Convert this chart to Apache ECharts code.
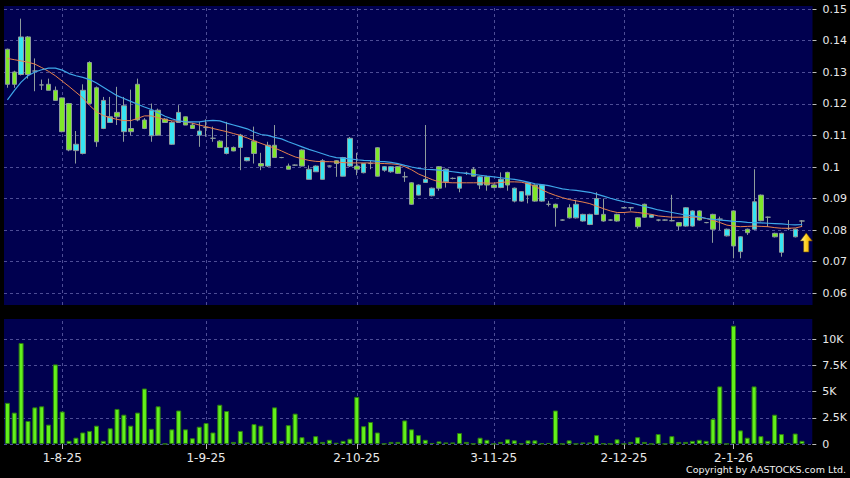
<!DOCTYPE html>
<html>
<head>
<meta charset="utf-8">
<script src="https://cdn.jsdelivr.net/npm/echarts@6/dist/echarts.min.js"></script>
<style>
html,body{margin:0;padding:0;background:#000;}
#c{width:850px;height:478px;}
</style>
</head>
<body>
<div id="c"></div>
<script>
// ---- data ----
const categories = Array.from({length: 118}, (_, i) => 'D' + i); // one slot per trading day (last slot empty)

const opens = [
.1373,.1301,.1293,.1412,.1304,.1260,.1262,.1243,.1219,.1201,
.1052,.1043,.1331,.1251,.1122,.1141,.1173,.1112,.1122,.1262,
.1149,.1099,.1180,.1152,.1072,.1141,.1159,.1133,.1101,.1125,
.1091,.1082,.1043,.1062,.1062,.1020,.1082,.1011,.1003,.1069,
.1030,.1003,.1006,.1054,.0961,.0985,.0961,.1003,.1020,.0971,
.1003,.1003,.0982,.1011,.1061,.0990,.0985,.1001,.0969,.0950,
.0911,.0951,.0909,.1001,.0953,.0964,.0933,.0980,.0993,.0943,
.0969,.0943,.0935,.0983,.0892,.0892,.0911,.0943,.0892,.0882,
.0882,.0832,.0871,.0839,.0829,.0818,.0850,.0850,.0832,.0850,
.0871,.0871,.0839,.0882,.0841,.0832,.0832,.0830,.0824,.0813,
.0813,.0861,.0824,.0850,.0835,.0782,.0861,.0732,.0803,.0803,
.0911,.0841,.0790,.0730,.0805,.0779,.0829];

const closes = [
.1262,.1262,.1412,.1293,.1304,.1260,.1243,.1211,.1112,.1054,
.1072,.1243,.1201,.1080,.1211,.1159,.1159,.1194,.1112,.1149,
.1122,.1180,.1101,.1141,.1141,.1173,.1133,.1122,.1114,.1125,
.1091,.1062,.1062,.1051,.1101,.1030,.1043,.1003,.1069,.1030,
.1030,.0993,.1006,.1003,.0993,.1003,.1020,.1003,.1011,.1030,
.1091,.0993,.1011,.1011,.0971,.1001,.1001,.0980,.0969,.0882,
.0943,.0961,.0933,.0933,.0993,.0964,.0969,.0980,.0971,.0969,
.0943,.0935,.0961,.0943,.0933,.0922,.0950,.0892,.0943,.0882,
.0871,.0832,.0839,.0882,.0850,.0850,.0900,.0829,.0832,.0829,
.0871,.0871,.0811,.0841,.0848,.0832,.0832,.0830,.0813,.0871,
.0861,.0832,.0824,.0803,.0835,.0803,.0750,.0779,.0792,.0890,
.0830,.0841,.0779,.0790,.0805,.0803,.0829];

const lows = [
.1251,.1251,.1290,.1280,.1240,.1244,.1243,.1210,.1110,.1050,
.1011,.1040,.1200,.1064,.1120,.1140,.1133,.1080,.1100,.1145,
.1120,.1080,.1100,.1140,.1070,.1140,.1133,.1122,.1064,.1096,
.1080,.1060,.1040,.1050,.0990,.1018,.1011,.0990,.1000,.1030,
.1028,.0993,.1004,.1002,.0961,.0985,.0960,.1001,.0969,.0970,
.1000,.0974,.0980,.0993,.0970,.0985,.0982,.0978,.0953,.0880,
.0910,.0950,.0907,.0925,.0935,.0961,.0920,.0975,.0970,.0930,
.0925,.0933,.0933,.0925,.0888,.0890,.0885,.0890,.0890,.0875,
.0811,.0830,.0837,.0837,.0827,.0816,.0848,.0827,.0830,.0827,
.0869,.0862,.0805,.0839,.0839,.0828,.0830,.0828,.0800,.0811,
.0811,.0830,.0822,.0760,.0800,.0780,.0711,.0711,.0785,.0800,
.0828,.0810,.0777,.0716,.0800,.0777,.0810];

const highs = [
.1375,.1305,.1470,.1415,.1344,.1277,.1280,.1255,.1220,.1203,
.1114,.1262,.1335,.1255,.1222,.1222,.1254,.1222,.1245,.1280,
.1155,.1201,.1185,.1155,.1145,.1196,.1160,.1140,.1143,.1151,
.1128,.1085,.1143,.1065,.1105,.1032,.1128,.1045,.1080,.1133,
.1032,.1011,.1008,.1056,.1005,.1005,.1025,.1005,.1022,.1032,
.1095,.1045,.1013,.1022,.1063,.1003,.1003,.1003,.0985,.0952,
.0945,.1133,.0935,.1003,.0995,.0967,.0971,.0985,.1000,.0972,
.0972,.0945,.0983,.0985,.0935,.0924,.0952,.0945,.0945,.0893,
.0884,.0834,.0882,.0896,.0852,.0852,.0920,.0900,.0834,.0852,
.0873,.0873,.0841,.0884,.0850,.0834,.0834,.0912,.0826,.0873,
.0863,.0863,.0826,.0852,.0843,.0805,.0863,.0781,.0805,.0993,
.0913,.0843,.0792,.0792,.0832,.0805,.0832];

const maShort = [
.1344,.1340,.1336,.1332,.1326,.1315,.1303,.1289,.1272,.1255,
.1237,.1219,.1195,.1175,.1163,.1156,.1151,.1147,.1147,.1154,
.1162,.1162,.1156,.1150,.1146,.1145,.1143,.1139,.1133,.1128,
.1122,.1117,.1112,.1106,.1100,.1092,.1083,.1075,.1067,.1060,
.1051,.1041,.1032,.1026,.1021,.1018,.1017,.1017,.1016,.1014,
.1013,.1013,.1013,.1013,.1012,.1011,.1010,.1008,.1001,.0991,
.0978,.0969,.0960,.0953,.0951,.0950,.0950,.0950,.0950,.0950,
.0949,.0949,.0951,.0953,.0953,.0952,.0947,.0939,.0928,.0918,
.0910,.0903,.0897,.0893,.0889,.0884,.0876,.0868,.0861,.0856,
.0856,.0858,.0856,.0853,.0850,.0845,.0843,.0841,.0841,.0841,
.0841,.0841,.0837,.0831,.0824,.0816,.0813,.0811,.0812,.0813,
.0812,.0811,.0808,.0806,.0806,.0807,.0812];

const maLong = [
.1213,.1242,.1269,.1289,.1301,.1308,.1313,.1313,.1307,.1296,
.1289,.1284,.1277,.1266,.1253,.1239,.1226,.1217,.1208,.1199,
.1190,.1182,.1172,.1161,.1153,.1146,.1143,.1143,.1143,.1146,
.1148,.1146,.1139,.1133,.1127,.1121,.1111,.1103,.1100,.1094,
.1089,.1080,.1072,.1064,.1056,.1049,.1042,.1035,.1030,.1028,
.1026,.1023,.1021,.1020,.1018,.1017,.1015,.1011,.1005,.1000,
.0996,.0993,.0992,.0990,.0988,.0985,.0982,.0980,.0977,.0974,
.0971,.0969,.0966,.0963,.0961,.0957,.0952,.0947,.0944,.0941,
.0936,.0931,.0928,.0926,.0923,.0920,.0914,.0908,.0901,.0895,
.0890,.0886,.0881,.0875,.0870,.0864,.0860,.0856,.0852,.0848,
.0845,.0842,.0837,.0834,.0832,.0830,.0828,.0827,.0825,.0824,
.0823,.0822,.0821,.0820,.0818,.0817,.0818];

const volumes = [
3930,3000,9650,2200,3500,3600,1850,7600,3100,300,
600,1100,1250,1750,300,1500,3350,2800,1750,3000,
5300,1450,3600,20,1400,3200,1400,550,1650,2000,
1100,3750,3150,200,1250,150,1900,1750,150,3500,
300,1800,2900,650,200,750,200,400,120,300,
500,4500,1700,2100,1100,30,200,200,2250,1400,
850,400,100,250,150,150,1050,200,30,600,
400,20,200,450,350,50,350,350,50,100,
3200,20,350,20,150,150,850,50,20,450,
20,200,650,200,20,950,20,750,200,200,
300,400,300,2400,5500,20,11300,1300,600,5500,
750,300,2800,950,100,1000,300];

const tickIdx  = [8, 29, 51, 71, 90, 106];
const tickText = ['1-8-25', '1-9-25', '2-10-25', '3-11-25', '2-12-25', '2-1-26'];
const priceTicks = [0.06, 0.07, 0.08, 0.09, 0.10, 0.11, 0.12, 0.13, 0.14, 0.15];
const volTicks = [0, 2500, 5000, 7500, 10000];
const volTickText = ['0', '2.5K', '5K', '7.5K', '10K'];
const arrowIdx = 116;
const arrowPrice = 0.0761;

// ---- chart ----
const candleData = opens.map((o, i) => [o, closes[i], lows[i], highs[i]]);
const gridDash = {color: '#4d4d96', type: [3, 3], width: 1};
const labelColor = '#e8e8e8';
const vLines = tickIdx.map(i => ({xAxis: categories[i]}));

const chart = echarts.init(document.getElementById('c'), null, {renderer: 'svg'});
chart.setOption({
  animation: false,
  backgroundColor: '#000000',
  title: {
    text: 'Copyright by AASTOCKS.com Ltd.',
    right: 4, top: 464, padding: 0,
    textStyle: {color: '#f0f0f0', fontSize: 9.5, fontWeight: 'normal', fontFamily: 'DejaVu Sans'}
  },
  grid: [
    {left: 4, right: 36, top: 6, height: 299, show: true, backgroundColor: '#00004f', borderWidth: 0},
    {left: 4, right: 36, top: 319, height: 125, show: true, backgroundColor: '#00004f', borderWidth: 0}
  ],
  xAxis: [
    {type: 'category', gridIndex: 0, data: categories, boundaryGap: true,
     axisLine: {show: false}, axisTick: {show: false}, axisLabel: {show: false}, splitLine: {show: false}},
    {type: 'category', gridIndex: 1, data: categories, boundaryGap: true,
     axisLine: {show: false},
     axisTick: {show: true, alignWithLabel: true, length: 5, interval: (i) => tickIdx.includes(i), lineStyle: {color: '#bbbbbb'}},
     axisLabel: {interval: (i) => tickIdx.includes(i), formatter: (v, i) => tickText[tickIdx.indexOf(i)],
                 color: labelColor, fontSize: 12, fontFamily: 'DejaVu Sans', margin: 8},
     splitLine: {show: false}}
  ],
  yAxis: [
    {type: 'value', gridIndex: 0, position: 'right', min: 0.0563, max: 0.151, scale: true,
     axisLine: {show: false},
     axisTick: {show: true, length: 4, customValues: priceTicks, lineStyle: {color: '#bbbbbb'}},
     axisLabel: {customValues: priceTicks, formatter: v => String(+v.toFixed(2)),
                 color: labelColor, fontSize: 11, fontFamily: 'DejaVu Sans', margin: 10},
     splitLine: {show: true, lineStyle: gridDash}},
    {type: 'value', gridIndex: 1, position: 'right', min: 0, max: 11940,
     axisLine: {show: false},
     axisTick: {show: true, length: 4, customValues: volTicks, lineStyle: {color: '#bbbbbb'}},
     axisLabel: {customValues: volTicks, formatter: v => volTickText[volTicks.indexOf(Math.round(v))],
                 color: labelColor, fontSize: 11, fontFamily: 'DejaVu Sans', margin: 10},
     splitLine: {show: true, lineStyle: gridDash}}
  ],
  series: [
    {type: 'candlestick', xAxisIndex: 0, yAxisIndex: 0, data: candleData, barWidth: 5, z: 2,
     itemStyle: {color: '#36e4f2', color0: '#7fe82a', borderColor: '#8e9c9c', borderColor0: '#8e9c9c', borderWidth: 1},
     markLine: {silent: true, symbol: 'none', z: 1, label: {show: false}, lineStyle: gridDash, data: vLines},
     markPoint: {silent: true, label: {show: false},
       data: [{coord: [categories[arrowIdx], arrowPrice],
               symbol: 'path://M6,0 L12,8 L8.6,8 L8.6,19 L3.4,19 L3.4,8 L0,8 Z',
               symbolSize: [12, 19], symbolOffset: [4, 0], symbolKeepAspect: false,
               itemStyle: {borderColor: '#6a4a00', borderWidth: 0.6,
                 color: {type: 'linear', x: 0, y: 0, x2: 1, y2: 0,
                   colorStops: [{offset: 0, color: '#fff7a8'}, {offset: 0.5, color: '#ffd21e'}, {offset: 1, color: '#e59400'}]}}}]}},
    {type: 'line', xAxisIndex: 0, yAxisIndex: 0, data: maShort, showSymbol: false, symbol: 'none', z: 3,
     lineStyle: {color: '#e8804c', width: 1}},
    {type: 'line', xAxisIndex: 0, yAxisIndex: 0, data: maLong, showSymbol: false, symbol: 'none', z: 3,
     lineStyle: {color: '#3ea6e8', width: 1.2}},
    {type: 'bar', xAxisIndex: 1, yAxisIndex: 1, data: volumes, barWidth: 5,
     itemStyle: {color: '#62f01c', borderColor: '#2c7d10', borderWidth: 1},
     markLine: {silent: true, symbol: 'none', z: 1, label: {show: false}, lineStyle: gridDash, data: vLines}}
  ]
});
</script>
</body>
</html>
